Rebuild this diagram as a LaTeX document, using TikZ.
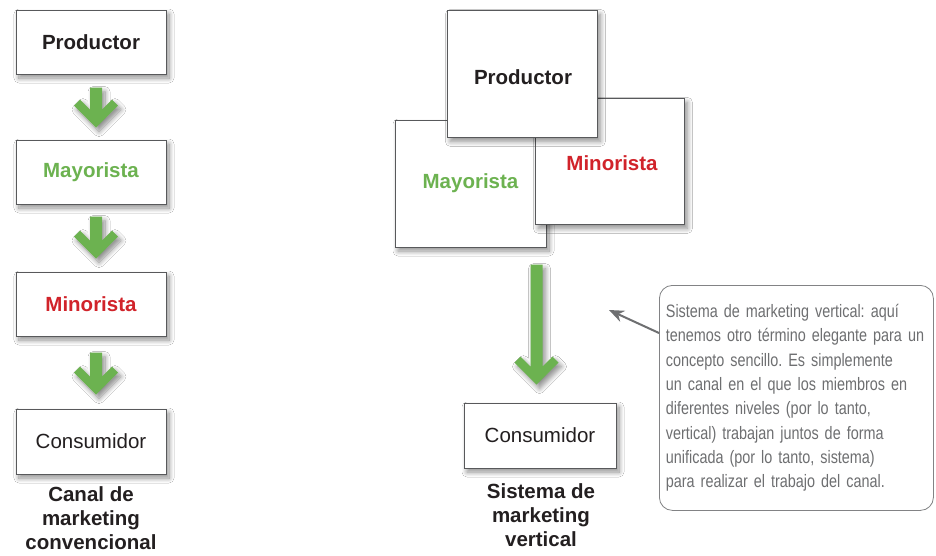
\documentclass[tikz,border=0pt]{standalone}
\usepackage{fontspec}
\setmainfont{Liberation Sans}
\newfontfamily\condfont[FakeStretch=0.80]{Liberation Sans}
\usetikzlibrary{shadows.blur,arrows.meta,calc}
\definecolor{agreen}{RGB}{108,178,80}
\definecolor{ared}{RGB}{209,35,42}
\definecolor{atext}{RGB}{35,31,32}
\definecolor{aframe}{RGB}{88,89,91}
\definecolor{cgray}{RGB}{110,111,113}
\definecolor{cframe}{RGB}{130,131,133}
\tikzset{
  softshadow/.style={blur shadow={shadow xshift=3pt, shadow yshift=-4pt, shadow blur steps=10, shadow blur radius=5pt, shadow opacity=45}},
  box/.style={draw=aframe, line width=0.8pt, fill=white, softshadow, inner sep=0pt,
    font=\fontsize{20.5}{24.5}\selectfont, text=atext},
  boldbox/.style={box, font=\fontsize{20.5}{24.5}\selectfont\bfseries},
  caption/.style={align=center, font=\fontsize{20.5}{24}\selectfont\bfseries, text=atext},
  garrowfill/.style={fill=agreen, softshadow},
  pointer/.style={draw=cgray, line width=2pt, -{Stealth[length=15pt,width=12pt]}},
}
\newcommand{\garrow}[2]{%
  \fill[garrowfill, shift={(#1)}] (-6,-#2) -- (6,-#2) -- (6,-18) -- (16,-28) -- (22,-22) -- (0,0)
    -- (-22,-22) -- (-16,-28) -- (-6,-18) -- cycle;}
\begin{document}
\begin{tikzpicture}[x=1pt,y=-1pt]
\path[fill=white] (0,0) rectangle (936,555);
\useasboundingbox (0,0) rectangle (936,555);

% ---- left column: conventional channel
\node[boldbox, minimum width=150pt, minimum height=64pt] (lprod) at (91,42) {Productor};
\node[boldbox, minimum width=150pt, minimum height=64pt, text=agreen] (lmay) at (91,172) {Mayorista};
\node[boldbox, minimum width=150pt, minimum height=64pt, text=ared] (lmin) at (91,304) {Minorista};
\node[box, minimum width=150pt, minimum height=65pt] (lcons) at (91,441.5) {Consumidor};

\coordinate (t1) at ($(lmay.north)+(5,-12)$);
\coordinate (t2) at ($(lmin.north)+(5,-13)$);
\coordinate (t3) at ($(lcons.north)+(5,-14)$);
\garrow{t1}{40}
\garrow{t2}{42}
\garrow{t3}{42}

\node[caption] (lcap) at (91,518) {Canal de\\marketing\\convencional};

% ---- right: vertical marketing system
\node[boldbox, minimum width=151pt, minimum height=127pt, text=agreen] (rmay) at (470.5,183.5) {Mayorista};
\node[boldbox, minimum width=149pt, minimum height=126pt, anchor=north west] (rmin) at (535,98) {};
\node[text=ared, font=\fontsize{20.5}{24.5}\selectfont\bfseries] (rmintext) at (612,163) {Minorista};
\node[boldbox, minimum width=150pt, minimum height=127pt, anchor=north west] (rprod) at (447,10) {};
\node[text=atext, font=\fontsize{20.5}{24.5}\selectfont\bfseries] (rprodtext) at (523,77) {Productor};

\node[box, minimum width=152pt, minimum height=65pt] (rcons) at (540,435.5) {Consumidor};
\coordinate (rtip) at ($(rcons.north)+(-3.5,-18)$);
\garrow{rtip}{120}

\node[caption] (rcap) at (541,515) {Sistema de\\marketing\\vertical};

% ---- callout
\node[draw=cframe, line width=0.8pt, rounded corners=13pt, anchor=north west,
  minimum width=274pt, minimum height=225pt, inner xsep=6pt, text width=261pt,
  align=left, text=cgray, font=\condfont\fontsize{18}{24.3}\selectfont\frenchspacing] (callout) at (659,285)
  {Sistema de marketing vertical: aquí\\
   tenemos otro término elegante para un\\
   concepto sencillo. Es simplemente\\
   un canal en el que los miembros en\\
   diferentes niveles (por lo tanto,\\
   vertical) trabajan juntos de forma\\
   unificada (por lo tanto, sistema)\\
   para realizar el trabajo del canal.};
\coordinate (ptip) at (609,310);
\draw[pointer] ($(callout.north west)+(0,48)$) -- (ptip);
\end{tikzpicture}
\end{document}
